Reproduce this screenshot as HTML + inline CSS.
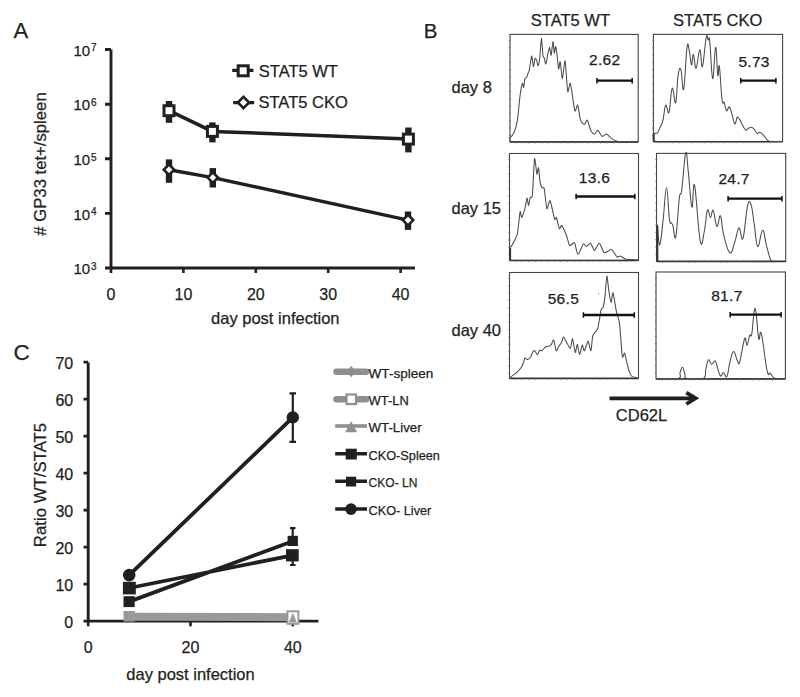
<!DOCTYPE html>
<html><head><meta charset="utf-8">
<style>
html,body{margin:0;padding:0;background:#fff;}
body{width:800px;height:697px;overflow:hidden;}
svg{display:block;}
text{font-family:"Liberation Sans",sans-serif;fill:#231f20;stroke:#231f20;stroke-width:0.25px;}
</style></head><body>
<svg width="800" height="697" viewBox="0 0 800 697">
<rect width="800" height="697" fill="#fff"/>
<text x="13.6" y="37.8" font-size="22">A</text>
<path d="M111,49.5 V268 M105,49.5 H111 M105,104.2 H111 M105,158.8 H111 M105,213.4 H111 M105,268 H415" stroke="#231f20" stroke-width="2.9" fill="none"/>
<path d="M111.0,268 V273" stroke="#231f20" stroke-width="2.6"/>
<text x="111.0" y="299.5" font-size="16" text-anchor="middle">0</text>
<path d="M183.4,268 V273" stroke="#231f20" stroke-width="2.6"/>
<text x="183.4" y="299.5" font-size="16" text-anchor="middle">10</text>
<path d="M255.8,268 V273" stroke="#231f20" stroke-width="2.6"/>
<text x="255.8" y="299.5" font-size="16" text-anchor="middle">20</text>
<path d="M328.2,268 V273" stroke="#231f20" stroke-width="2.6"/>
<text x="328.2" y="299.5" font-size="16" text-anchor="middle">30</text>
<path d="M400.6,268 V273" stroke="#231f20" stroke-width="2.6"/>
<text x="400.6" y="299.5" font-size="16" text-anchor="middle">40</text>
<text x="90.2" y="55.8" font-size="15" text-anchor="end">10</text>
<text x="91" y="51.4" font-size="10">7</text>
<text x="90.2" y="110.4" font-size="15" text-anchor="end">10</text>
<text x="91" y="106.0" font-size="10">6</text>
<text x="90.2" y="165.0" font-size="15" text-anchor="end">10</text>
<text x="91" y="160.6" font-size="10">5</text>
<text x="90.2" y="219.6" font-size="15" text-anchor="end">10</text>
<text x="91" y="215.2" font-size="10">4</text>
<text x="90.2" y="274.2" font-size="15" text-anchor="end">10</text>
<text x="91" y="269.8" font-size="10">3</text>
<text x="275.3" y="324.1" font-size="16.5" text-anchor="middle">day post infection</text>
<text transform="translate(45.8,164) rotate(-90)" font-size="16.7" text-anchor="middle"># GP33 tet+/spleen</text>
<rect x="165.8" y="101" width="6.4" height="21.8" fill="#231f20"/>
<rect x="209.2" y="122.4" width="6.4" height="20.0" fill="#231f20"/>
<rect x="405.2" y="127.5" width="6.4" height="24.9" fill="#231f20"/>
<rect x="165.8" y="159.4" width="6.4" height="23.4" fill="#231f20"/>
<rect x="209.6" y="168.1" width="6.4" height="19.4" fill="#231f20"/>
<rect x="404.8" y="211.5" width="6.4" height="18.4" fill="#231f20"/>
<polyline points="169,110.7 212.4,131.4 408.4,139.1" stroke="#231f20" stroke-width="3.5" fill="none"/>
<polyline points="169,169.7 212.8,177.6 408,220.1" stroke="#231f20" stroke-width="3.5" fill="none"/>
<rect x="164" y="105.7" width="10" height="10" fill="#fff" stroke="#231f20" stroke-width="3"/>
<rect x="207.4" y="126.4" width="10" height="10" fill="#fff" stroke="#231f20" stroke-width="3"/>
<rect x="403.4" y="134.1" width="10" height="10" fill="#fff" stroke="#231f20" stroke-width="3"/>
<path d="M163.8,169.7 L169,164.5 L174.2,169.7 L169,174.89999999999998 Z" fill="#fff" stroke="#231f20" stroke-width="2.6"/>
<path d="M207.60000000000002,177.6 L212.8,172.4 L218.0,177.6 L212.8,182.79999999999998 Z" fill="#fff" stroke="#231f20" stroke-width="2.6"/>
<path d="M402.8,220.1 L408,214.9 L413.2,220.1 L408,225.29999999999998 Z" fill="#fff" stroke="#231f20" stroke-width="2.6"/>
<path d="M232.2,70.3 H253.5 M233.2,102.7 H254.2" stroke="#231f20" stroke-width="3.3"/>
<rect x="238.2" y="65.8" width="10" height="10" fill="#fff" stroke="#231f20" stroke-width="3"/>
<path d="M237.9,102.5 L243.5,96.9 L249.1,102.5 L243.5,108.1 Z" fill="#fff" stroke="#231f20" stroke-width="2.6"/>
<text x="258.8" y="77.2" font-size="16.5">STAT5 WT</text>
<text x="258.5" y="107.8" font-size="16.5">STAT5 CKO</text>
<text x="423.8" y="37.9" font-size="20.5">B</text>
<text x="570.4" y="26" font-size="16.5" text-anchor="middle">STAT5 WT</text>
<text x="717.7" y="26" font-size="16.5" text-anchor="middle">STAT5 CKO</text>
<text x="451.5" y="93.1" font-size="16.5">day 8</text>
<text x="451.5" y="213.7" font-size="16.5">day 15</text>
<text x="451.5" y="335.6" font-size="16.5">day 40</text>
<rect x="510" y="34.4" width="128.2" height="107.4" fill="none" stroke="#444" stroke-width="1.1"/>
<path d="M510,142.0 H638.2" stroke="#333" stroke-width="1.5"/>
<path d="M516.0,141.8 v1.8 M522.5,141.8 v1.8 M529.0,141.8 v1.8 M535.5,141.8 v1.8 M542.0,141.8 v1.8 M548.5,141.8 v1.8 M555.0,141.8 v1.8 M561.5,141.8 v1.8 M568.0,141.8 v1.8 M574.5,141.8 v1.8 M581.0,141.8 v1.8 M587.5,141.8 v1.8 M594.0,141.8 v1.8 M600.5,141.8 v1.8 M607.0,141.8 v1.8 M613.5,141.8 v1.8 M620.0,141.8 v1.8 M626.5,141.8 v1.8 " stroke="#777" stroke-width="0.8"/>
<path d="M508.8,40.4 h2 M508.8,47.7 h2 M508.8,55.0 h2 M508.8,62.3 h2 M508.8,69.6 h2 M508.8,76.9 h2 M508.8,84.2 h2 M508.8,91.5 h2 M508.8,98.8 h2 M508.8,106.1 h2 M508.8,113.4 h2 M508.8,120.7 h2 M508.8,128.0 h2 M508.8,135.3 h2 " stroke="#666" stroke-width="0.8"/>
<path d="M509.9,141.5 C509.9,141.1 509.6,138.8 509.9,138.1 C510.2,137.4 512.1,136.0 512.8,134.8 C513.5,133.6 515.4,128.9 516,126.8 C516.6,124.7 517.6,118.6 518,115.6 C518.4,112.6 519.3,102.3 519.6,99.5 C519.9,96.7 520.6,91.6 520.9,89.8 C521.2,88.0 522.2,83.7 522.5,83.4 C522.8,83.1 523.4,87.9 523.7,87.4 C524.0,86.9 524.6,79.7 524.9,78.6 C525.2,77.5 526.1,78.4 526.5,77.8 C526.9,77.2 527.8,73.8 528.1,73 C528.4,72.2 528.9,71.8 529.2,70.6 C529.5,69.4 530.2,64.1 530.5,62.5 C530.8,60.9 531.5,55.7 531.8,56.1 C532.1,56.5 533.0,66.2 533.4,66.5 C533.8,66.8 534.6,59.2 535,58.5 C535.4,57.8 536.2,59.3 536.6,60.1 C537.0,60.9 537.8,66.0 538.2,65.7 C538.6,65.4 539.4,60.7 539.8,57.7 C540.2,54.7 541.0,38.6 541.4,38.4 C541.8,38.2 542.7,54.0 543,56.1 C543.3,58.2 543.9,56.8 544.2,57.7 C544.5,58.6 545.4,64.3 545.8,64.1 C546.2,63.9 547.0,57.9 547.4,56.1 C547.8,54.3 549.1,47.4 549.5,47.3 C549.9,47.2 550.7,55.9 551.1,55.3 C551.5,54.7 552.6,41.9 553,41.6 C553.4,41.3 554.0,52.4 554.3,52.9 C554.6,53.4 555.3,46.3 555.6,46.5 C555.9,46.7 556.7,52.0 557,54.5 C557.3,57.0 558.2,68.2 558.6,69 C559.0,69.8 559.8,60.6 560.2,61.7 C560.6,62.8 561.9,78.7 562.4,78.6 C562.9,78.5 564.5,59.5 565.1,60.9 C565.7,62.3 567.1,89.0 567.7,91.5 C568.3,94.0 569.6,81.3 570.4,83.4 C571.2,85.5 574.0,108.3 574.8,110.7 C575.6,113.1 577.1,104.0 577.7,105.1 C578.3,106.2 579.9,118.3 580.6,120.4 C581.3,122.5 583.7,124.4 584.4,124.4 C585.1,124.4 586.6,119.4 587.3,120.1 C588.0,120.8 590.1,129.3 590.9,130.8 C591.7,132.3 593.7,134.1 594.5,134 C595.3,133.9 597.0,130.0 597.8,130.3 C598.6,130.6 601.1,136.0 602.1,136.4 C603.1,136.8 605.6,133.8 606.6,134 C607.6,134.2 610.3,137.6 611.4,138.4 C612.5,139.2 615.6,140.9 617,141.3 C618.4,141.7 622.0,141.9 624.3,142 C626.6,142.0 636.5,142.0 638,142" fill="none" stroke="#4a4a4a" stroke-width="1.05"/>
<rect x="653.4" y="34.4" width="129.2" height="107.1" fill="none" stroke="#444" stroke-width="1.1"/>
<path d="M653.4,141.7 H782.6" stroke="#333" stroke-width="1.5"/>
<path d="M659.4,141.5 v1.8 M665.9,141.5 v1.8 M672.4,141.5 v1.8 M678.9,141.5 v1.8 M685.4,141.5 v1.8 M691.9,141.5 v1.8 M698.4,141.5 v1.8 M704.9,141.5 v1.8 M711.4,141.5 v1.8 M717.9,141.5 v1.8 M724.4,141.5 v1.8 M730.9,141.5 v1.8 M737.4,141.5 v1.8 M743.9,141.5 v1.8 M750.4,141.5 v1.8 M756.9,141.5 v1.8 M763.4,141.5 v1.8 M769.9,141.5 v1.8 " stroke="#777" stroke-width="0.8"/>
<path d="M652.1999999999999,40.4 h2 M652.1999999999999,47.7 h2 M652.1999999999999,55.0 h2 M652.1999999999999,62.3 h2 M652.1999999999999,69.6 h2 M652.1999999999999,76.9 h2 M652.1999999999999,84.2 h2 M652.1999999999999,91.5 h2 M652.1999999999999,98.8 h2 M652.1999999999999,106.1 h2 M652.1999999999999,113.4 h2 M652.1999999999999,120.7 h2 M652.1999999999999,128.0 h2 M652.1999999999999,135.3 h2 " stroke="#666" stroke-width="0.8"/>
<path d="M653.5,141.5 C653.5,139.8 652.7,135.3 653.5,133.6 C654.3,131.9 655.9,134.3 657.2,133.2 C658.5,132.1 658.4,131.1 659.6,128.4 C660.8,125.7 661.6,125.3 662.9,120.4 C664.2,115.5 664.4,106.8 665.7,105.1 C667.0,103.4 667.6,115.8 669,112.3 C670.4,108.8 670.8,90.2 672.2,88.2 C673.6,86.2 674.5,105.4 675.7,102.7 C676.9,100.0 677.0,82.3 678.1,75.4 C679.2,68.5 679.7,66.9 680.9,69.8 C682.1,72.7 682.4,93.7 683.7,89 C685.0,84.3 685.8,55.2 687,47.3 C688.2,39.4 688.5,47.6 689.4,51.3 C690.3,55.0 690.7,64.2 691.5,64.9 C692.3,65.6 692.4,53.8 693.4,54.5 C694.4,55.2 694.8,69.2 696.1,68.2 C697.4,67.2 698.5,50.1 699.8,49.7 C701.1,49.3 701.1,69.0 702.4,66.5 C703.7,64.0 705.0,43.2 706.2,37.6 C707.4,32.0 707.4,39.2 708.2,40 C709.0,40.8 708.9,33.5 709.8,41.6 C710.7,49.7 711.5,77.4 712.7,78.6 C713.9,79.8 714.5,48.0 715.6,47.3 C716.7,46.6 717.0,71.4 717.8,75.4 C718.6,79.4 718.5,61.4 719.4,66.5 C720.3,71.6 721.0,91.9 722,99.5 C723.0,107.1 723.2,100.3 724.2,102.7 C725.2,105.1 725.5,109.7 726.7,110.7 C727.9,111.7 728.2,104.8 729.9,107.5 C731.6,110.2 733.0,121.6 734.7,123.6 C736.4,125.6 735.8,116.0 737.9,117.2 C740.0,118.4 742.8,126.8 744.9,129.2 C747.0,131.6 746.5,128.7 748.1,128.4 C749.7,128.1 750.5,126.6 752.4,127.6 C754.3,128.6 755.5,132.2 757.2,133.2 C758.9,134.2 758.7,131.5 760.4,132.4 C762.1,133.3 763.4,135.4 765.3,137.3 C767.2,139.2 765.8,140.4 769.3,141.3 C772.8,141.5 779.3,141.5 782,141.5" fill="none" stroke="#4a4a4a" stroke-width="1.05"/>
<rect x="509.5" y="153.5" width="129.0" height="106.9" fill="none" stroke="#444" stroke-width="1.1"/>
<path d="M509.5,260.59999999999997 H638.5" stroke="#333" stroke-width="1.5"/>
<path d="M515.5,260.4 v1.8 M522.0,260.4 v1.8 M528.5,260.4 v1.8 M535.0,260.4 v1.8 M541.5,260.4 v1.8 M548.0,260.4 v1.8 M554.5,260.4 v1.8 M561.0,260.4 v1.8 M567.5,260.4 v1.8 M574.0,260.4 v1.8 M580.5,260.4 v1.8 M587.0,260.4 v1.8 M593.5,260.4 v1.8 M600.0,260.4 v1.8 M606.5,260.4 v1.8 M613.0,260.4 v1.8 M619.5,260.4 v1.8 M626.0,260.4 v1.8 " stroke="#777" stroke-width="0.8"/>
<path d="M508.3,159.5 h2 M508.3,166.8 h2 M508.3,174.1 h2 M508.3,181.4 h2 M508.3,188.7 h2 M508.3,196.0 h2 M508.3,203.3 h2 M508.3,210.6 h2 M508.3,217.9 h2 M508.3,225.2 h2 M508.3,232.5 h2 M508.3,239.8 h2 M508.3,247.1 h2 M508.3,254.4 h2 " stroke="#666" stroke-width="0.8"/>
<path d="M509.9,260 C509.9,258.7 509.8,249.5 509.9,248 C510.0,246.5 510.7,247.2 511.2,246.4 C511.7,245.6 513.7,242.3 514.4,240.8 C515.1,239.3 517.0,236.0 517.6,232.8 C518.2,229.6 519.6,213.6 520.1,211.9 C520.6,210.2 521.2,217.9 521.7,217.5 C522.2,217.1 524.3,210.8 524.9,208.7 C525.5,206.6 526.6,198.6 527,198.2 C527.4,197.8 528.2,205.5 528.6,205.4 C529.0,205.3 529.8,198.5 530.2,197.4 C530.6,196.3 531.9,199.2 532.4,195 C532.9,190.8 534.0,161.1 534.5,158.8 C535.0,156.5 536.5,173.1 536.9,174.1 C537.3,175.1 538.1,166.8 538.5,167.7 C538.9,168.6 539.7,179.9 540.1,182.1 C540.5,184.3 541.6,187.1 542.1,187.8 C542.6,188.5 543.7,186.3 544.2,188.6 C544.7,190.9 546.3,207.4 546.9,208.7 C547.5,210.0 549.3,199.5 550.1,200.6 C550.9,201.7 553.9,217.2 554.6,219.1 C555.3,221.0 556.0,216.4 556.5,217.5 C557.0,218.6 558.8,227.8 559.4,228.7 C560.0,229.6 561.0,224.8 561.8,225.5 C562.6,226.2 565.5,233.0 566.4,235.2 C567.3,237.4 568.7,244.8 569.6,245.6 C570.5,246.4 573.6,241.9 574.5,242.9 C575.4,243.9 577.0,254.4 578,254.5 C579.0,254.6 582.4,244.9 583.3,244 C584.2,243.1 585.7,246.5 586.5,246.4 C587.3,246.3 589.6,242.8 590.5,243.2 C591.4,243.6 593.5,250.4 594.5,250.4 C595.5,250.4 598.3,242.9 599.4,243.2 C600.5,243.5 602.9,252.1 604.2,252.8 C605.5,253.5 610.0,249.1 611.4,249.6 C612.8,250.1 616.0,256.2 617,256.9 C618.0,257.6 619.3,255.8 620.3,256.1 C621.3,256.4 624.6,258.9 625.9,259.3 C627.2,259.7 631.0,259.5 632.3,259.6 C633.6,259.7 637.4,260.0 638,260" fill="none" stroke="#4a4a4a" stroke-width="1.05"/>
<rect x="656.5" y="153.4" width="129.2" height="107.8" fill="none" stroke="#444" stroke-width="1.1"/>
<path d="M656.5,261.4 H785.7" stroke="#333" stroke-width="1.5"/>
<path d="M662.5,261.2 v1.8 M669.0,261.2 v1.8 M675.5,261.2 v1.8 M682.0,261.2 v1.8 M688.5,261.2 v1.8 M695.0,261.2 v1.8 M701.5,261.2 v1.8 M708.0,261.2 v1.8 M714.5,261.2 v1.8 M721.0,261.2 v1.8 M727.5,261.2 v1.8 M734.0,261.2 v1.8 M740.5,261.2 v1.8 M747.0,261.2 v1.8 M753.5,261.2 v1.8 M760.0,261.2 v1.8 M766.5,261.2 v1.8 M773.0,261.2 v1.8 " stroke="#777" stroke-width="0.8"/>
<path d="M655.3,159.4 h2 M655.3,166.7 h2 M655.3,174.0 h2 M655.3,181.3 h2 M655.3,188.6 h2 M655.3,195.9 h2 M655.3,203.2 h2 M655.3,210.5 h2 M655.3,217.8 h2 M655.3,225.1 h2 M655.3,232.4 h2 M655.3,239.7 h2 M655.3,247.0 h2 M655.3,254.3 h2 " stroke="#666" stroke-width="0.8"/>
<path d="M657.1,261 C657.1,253.5 656.6,228.9 657.1,225.5 C657.6,222.1 658.4,246.1 659.7,244.8 C661.0,243.5 661.8,231.1 663.2,219.1 C664.6,207.1 665.2,187.8 666.5,187.8 C667.8,187.8 668.4,211.7 669.4,219.1 C670.4,226.5 670.6,221.8 671.3,223.1 C672.0,224.4 672.0,222.6 672.9,225.5 C673.8,228.4 674.5,242.5 675.8,236.8 C677.1,231.1 678.1,208.0 679.3,198.2 C680.5,188.4 680.4,199.6 681.7,190.2 C683.0,180.8 684.3,157.3 685.7,153.2 C687.1,149.1 686.9,159.6 688.2,170.9 C689.5,182.2 690.6,204.0 691.9,207 C693.2,210.0 692.9,178.3 694.6,185.4 C696.3,192.5 698.2,231.0 700.2,240.8 C702.2,250.6 702.7,238.4 704.2,232 C705.7,225.6 706.1,213.3 707.4,210.3 C708.7,207.3 709.3,217.5 710.5,217.5 C711.7,217.5 711.9,208.5 713.2,210.3 C714.5,212.1 715.4,225.1 716.9,226.3 C718.4,227.5 719.1,214.0 720.5,215.9 C721.9,217.8 721.7,227.5 723.7,235.2 C725.7,242.9 727.4,251.5 729.8,252.8 C732.2,254.1 733.0,246.8 734.9,241.6 C736.8,236.4 737.2,228.6 738.9,227.9 C740.6,227.2 741.2,243.0 743,238.4 C744.8,233.8 745.8,213.3 747.5,206.2 C749.2,199.1 749.6,200.9 751,204.6 C752.4,208.3 752.8,215.1 754.2,223.9 C755.6,232.7 755.9,245.1 757.7,246.4 C759.5,247.7 760.8,230.6 762.6,230.3 C764.4,230.0 764.7,238.7 766.3,244.8 C767.9,250.9 769.1,255.9 770.3,259.3 C771.5,261.0 771.6,260.6 772,261" fill="none" stroke="#4a4a4a" stroke-width="1.05"/>
<rect x="509.5" y="272.5" width="129.0" height="105.7" fill="none" stroke="#444" stroke-width="1.1"/>
<path d="M509.5,378.4 H638.5" stroke="#333" stroke-width="1.5"/>
<path d="M515.5,378.2 v1.8 M522.0,378.2 v1.8 M528.5,378.2 v1.8 M535.0,378.2 v1.8 M541.5,378.2 v1.8 M548.0,378.2 v1.8 M554.5,378.2 v1.8 M561.0,378.2 v1.8 M567.5,378.2 v1.8 M574.0,378.2 v1.8 M580.5,378.2 v1.8 M587.0,378.2 v1.8 M593.5,378.2 v1.8 M600.0,378.2 v1.8 M606.5,378.2 v1.8 M613.0,378.2 v1.8 M619.5,378.2 v1.8 M626.0,378.2 v1.8 " stroke="#777" stroke-width="0.8"/>
<path d="M508.3,278.5 h2 M508.3,285.8 h2 M508.3,293.1 h2 M508.3,300.4 h2 M508.3,307.7 h2 M508.3,315.0 h2 M508.3,322.3 h2 M508.3,329.6 h2 M508.3,336.9 h2 M508.3,344.2 h2 M508.3,351.5 h2 M508.3,358.8 h2 M508.3,366.1 h2 M508.3,373.4 h2 " stroke="#666" stroke-width="0.8"/>
<path d="M509.9,377.5 C510.3,377.2 512.8,375.5 513.6,374.9 C514.4,374.3 516.7,372.5 517.6,371.6 C518.5,370.7 521.0,367.9 521.7,366.8 C522.4,365.7 523.3,363.0 523.7,362 C524.1,361.0 524.5,358.3 524.9,358 C525.3,357.7 526.7,359.7 527.3,359.6 C527.9,359.5 529.9,358.1 530.5,357.2 C531.1,356.3 532.4,352.3 532.9,351.6 C533.4,350.9 534.5,350.4 535,350.8 C535.5,351.2 536.7,354.9 537.2,354.8 C537.7,354.7 539.3,350.4 539.8,350 C540.3,349.6 541.0,351.2 541.7,350.8 C542.4,350.4 544.9,347.2 545.8,346.7 C546.7,346.2 548.9,346.2 549.5,345.9 C550.1,345.6 550.9,344.9 551.4,344.3 C551.9,343.7 553.3,339.3 553.8,340 C554.3,340.7 555.7,350.1 556.2,350.8 C556.7,351.5 558.0,347.7 558.6,346.7 C559.2,345.7 561.3,343.0 561.8,341.9 C562.3,340.8 562.9,336.9 563.5,337.1 C564.1,337.3 566.4,342.3 567.2,343.5 C568.0,344.7 569.8,348.8 570.4,348.3 C571.0,347.8 572.0,338.2 572.5,338.7 C573.0,339.2 574.8,351.8 575.3,352.4 C575.8,353.0 576.9,344.0 577.4,344.3 C577.9,344.6 579.1,354.7 579.6,354.8 C580.1,354.9 581.7,345.5 582.2,345.1 C582.7,344.7 583.8,351.2 584.4,350.8 C585.0,350.4 587.4,341.1 588.1,341.1 C588.8,341.1 590.4,351.4 590.9,350.8 C591.4,350.2 592.1,338.0 592.9,335.5 C593.7,333.0 596.9,331.1 597.8,328.3 C598.7,325.5 600.4,312.1 601,309.8 C601.6,307.5 602.7,308.9 603.1,307.4 C603.5,305.9 604.6,299.6 605,296.1 C605.4,292.6 606.5,276.4 606.9,276 C607.3,275.6 608.5,289.2 609,292.1 C609.5,295.0 610.7,302.4 611.1,302.5 C611.5,302.6 612.4,292.0 613,292.9 C613.6,293.8 615.5,307.2 616.2,310.6 C616.9,314.0 618.8,318.4 619.5,323.4 C620.2,328.4 621.7,353.1 622.3,356.4 C622.9,359.7 623.9,351.9 624.6,353.2 C625.3,354.5 627.5,365.9 628.3,368.4 C629.1,370.9 630.5,375.0 631.5,376 C632.5,377.0 636.5,377.6 637.1,377.8" fill="none" stroke="#4a4a4a" stroke-width="1.05"/>
<rect x="656" y="272" width="129.4" height="106.8" fill="none" stroke="#444" stroke-width="1.1"/>
<path d="M656,379.0 H785.4" stroke="#333" stroke-width="1.5"/>
<path d="M662.0,378.8 v1.8 M668.5,378.8 v1.8 M675.0,378.8 v1.8 M681.5,378.8 v1.8 M688.0,378.8 v1.8 M694.5,378.8 v1.8 M701.0,378.8 v1.8 M707.5,378.8 v1.8 M714.0,378.8 v1.8 M720.5,378.8 v1.8 M727.0,378.8 v1.8 M733.5,378.8 v1.8 M740.0,378.8 v1.8 M746.5,378.8 v1.8 M753.0,378.8 v1.8 M759.5,378.8 v1.8 M766.0,378.8 v1.8 M772.5,378.8 v1.8 " stroke="#777" stroke-width="0.8"/>
<path d="M654.8,278.0 h2 M654.8,285.3 h2 M654.8,292.6 h2 M654.8,299.9 h2 M654.8,307.2 h2 M654.8,314.5 h2 M654.8,321.8 h2 M654.8,329.1 h2 M654.8,336.4 h2 M654.8,343.7 h2 M654.8,351.0 h2 M654.8,358.3 h2 M654.8,365.6 h2 M654.8,372.9 h2 " stroke="#666" stroke-width="0.8"/>
<path d="M656,378.5 C660.6,378.5 672.6,378.5 677.7,378.5 C682.8,377.2 679.1,374.9 680.1,372.5 C681.1,370.1 681.5,367.0 682.5,367.3 C683.5,367.6 684.0,371.7 684.9,374.1 C685.8,376.5 683.1,377.6 687,378.5 C690.9,378.5 699.5,378.5 703.4,378.5 C707.3,376.5 704.7,373.1 705.8,369.2 C706.9,365.3 707.3,360.9 708.5,359.9 C709.7,358.9 710.2,364.2 711.6,364.4 C713.0,364.6 714.0,360.1 715.3,360.9 C716.6,361.7 716.5,365.2 717.6,368.4 C718.7,371.6 719.3,375.1 720.5,376 C721.7,376.9 722.1,372.4 723.4,372.5 C724.7,372.6 725.5,378.5 726.9,376.5 C728.3,374.1 728.7,366.4 730.1,361.2 C731.5,356.0 732.1,351.8 733.6,351.6 C735.1,351.4 736.0,358.2 737.3,360.4 C738.6,362.6 738.2,366.6 739.7,362 C741.2,357.4 743.1,342.2 744.6,338.7 C746.1,335.2 745.9,345.8 747,345.1 C748.1,344.4 748.7,337.9 749.7,335.5 C750.7,333.1 750.9,339.0 751.8,333.9 C752.7,328.8 753.3,315.8 754.2,311.4 C755.1,307.0 755.2,307.3 756.1,313 C757.0,318.7 757.6,334.3 758.7,338.7 C759.8,343.1 759.6,327.2 761.4,333.9 C763.2,340.6 765.2,362.5 767.1,370.8 C769.0,378.5 768.6,371.7 770.3,373.3 C772.0,374.9 772.1,377.4 775.1,378.5 C778.1,378.5 782.7,378.5 784.7,378.5" fill="none" stroke="#4a4a4a" stroke-width="1.05"/>
<path d="M653.8,133.6 V141.5 M510.2,248 V260 M657.4,225.5 V261" stroke="#333" stroke-width="1.8"/>
<circle cx="598.6" cy="293.7" r="0.6" fill="#777"/>
<text x="604.7" y="64.9" font-size="15.5" letter-spacing="0.3" text-anchor="middle" fill="#222">2.62</text>
<path d="M596.6,80.60000000000001 H632.6" stroke="#111" stroke-width="2.3" fill="none"/>
<path d="M597.0,77.9 V83.4 M632.2,77.9 V83.4" stroke="#111" stroke-width="1.5" fill="none"/>
<text x="754.1" y="66.5" font-size="15.5" letter-spacing="0.3" text-anchor="middle" fill="#222">5.73</text>
<path d="M740.4,80.7 H776.3" stroke="#111" stroke-width="2.3" fill="none"/>
<path d="M740.8,78.0 V83.5 M775.9,78.0 V83.5" stroke="#111" stroke-width="1.5" fill="none"/>
<text x="594.5" y="183.4" font-size="15.5" letter-spacing="0.3" text-anchor="middle" fill="#222">13.6</text>
<path d="M575.7,196.5 H635.2" stroke="#111" stroke-width="2.3" fill="none"/>
<path d="M576.1,193.8 V199.3 M634.8000000000001,193.8 V199.3" stroke="#111" stroke-width="1.5" fill="none"/>
<text x="734.1" y="184.1" font-size="15.5" letter-spacing="0.3" text-anchor="middle" fill="#222">24.7</text>
<path d="M727.7,198.6 H782.3" stroke="#111" stroke-width="2.3" fill="none"/>
<path d="M728.1,195.9 V201.4 M781.9,195.9 V201.4" stroke="#111" stroke-width="1.5" fill="none"/>
<text x="563.4" y="304.2" font-size="15.5" letter-spacing="0.3" text-anchor="middle" fill="#222">56.5</text>
<path d="M583,315.0 H634.7" stroke="#111" stroke-width="2.3" fill="none"/>
<path d="M583.4,312.3 V317.8 M634.3000000000001,312.3 V317.8" stroke="#111" stroke-width="1.5" fill="none"/>
<text x="726.9" y="301.4" font-size="15.5" letter-spacing="0.3" text-anchor="middle" fill="#222">81.7</text>
<path d="M729.8,314.7 H781.5" stroke="#111" stroke-width="2.3" fill="none"/>
<path d="M730.1999999999999,312.0 V317.5 M781.1,312.0 V317.5" stroke="#111" stroke-width="1.5" fill="none"/>
<path d="M609.5,398.3 H694" stroke="#231f20" stroke-width="3.8"/>
<path d="M686.3,392.6 L695.6,398.3 L686.3,404" stroke="#231f20" stroke-width="3.8" fill="none" stroke-linejoin="miter"/>
<text x="615.8" y="420.8" font-size="16.5">CD62L</text>
<text x="13.6" y="359.6" font-size="22.5">C</text>
<path d="M88.2,362.4 V621.1 M83.5,621.1 H318.4 M83.5,584.1 H88.2 M83.5,547.1 H88.2 M83.5,510.1 H88.2 M83.5,473.1 H88.2 M83.5,436.1 H88.2 M83.5,399.1 H88.2 M83.5,362.1 H88.2 " stroke="#231f20" stroke-width="2.9" fill="none"/>
<path d="M88.2,621.1 V626.3" stroke="#231f20" stroke-width="2.6"/>
<text x="88.2" y="653" font-size="16" text-anchor="middle">0</text>
<path d="M190.5,621.1 V626.3" stroke="#231f20" stroke-width="2.6"/>
<text x="190.5" y="653" font-size="16" text-anchor="middle">20</text>
<path d="M292.8,621.1 V626.3" stroke="#231f20" stroke-width="2.6"/>
<text x="292.8" y="653" font-size="16" text-anchor="middle">40</text>
<text x="73.2" y="627.8" font-size="16" text-anchor="end">0</text>
<text x="73.2" y="590.8" font-size="16" text-anchor="end">10</text>
<text x="73.2" y="553.8" font-size="16" text-anchor="end">20</text>
<text x="73.2" y="516.8" font-size="16" text-anchor="end">30</text>
<text x="73.2" y="479.8" font-size="16" text-anchor="end">40</text>
<text x="73.2" y="442.8" font-size="16" text-anchor="end">50</text>
<text x="73.2" y="405.8" font-size="16" text-anchor="end">60</text>
<text x="73.2" y="368.8" font-size="16" text-anchor="end">70</text>
<text x="190.5" y="679.5" font-size="16.5" text-anchor="middle">day post infection</text>
<text transform="translate(45.6,485) rotate(-90)" font-size="16.8" text-anchor="middle">Ratio WT/STAT5</text>
<path d="M129.2,616.8 L292.7,617.2" stroke="#999999" stroke-width="8"/>
<rect x="123.5" y="611" width="11.5" height="10.5" fill="#999999"/>
<rect x="287.4" y="611.3" width="11" height="12.5" fill="#fff" stroke="#999999" stroke-width="2"/>
<path d="M292.8,612.8 L296.8,622.5 L288.8,622.5 Z" fill="#999999"/>
<path d="M129.2,575.1 L292.8,417.4 M129.2,588 L292.7,555.3 M129.2,601.6 L292.7,541.3" stroke="#231f20" stroke-width="3.8" fill="none"/>
<path d="M292.8,393.3 V441.8 M289.5,393.3 H296 M289.5,441.8 H296 M292.7,528.2 V541 M290,528.2 H295.5 M292.7,556 V565 M290,565 H295.5" stroke="#231f20" stroke-width="2.2" fill="none"/>
<circle cx="129.2" cy="575.1" r="6.3" fill="#231f20"/>
<circle cx="292.8" cy="417.4" r="6.2" fill="#231f20"/>
<rect x="122.9" y="581.8" width="12.9" height="12.6" fill="#231f20"/>
<rect x="286" y="549.2" width="12.7" height="12.2" fill="#231f20"/>
<rect x="123.5" y="596.2" width="11.2" height="10.9" fill="#231f20"/>
<rect x="287.6" y="535.8" width="10.3" height="10.2" fill="#231f20"/>
<path d="M336.5,371.7 H366 M336.5,399.3 H366" stroke="#8f8f8f" stroke-width="6.5" stroke-linecap="round"/>
<path d="M351.2,365.8 L355.6,371.7 L351.2,377.3 L346.8,371.7 Z" fill="#8f8f8f"/>
<rect x="346.5" y="394.5" width="9.5" height="9.5" fill="#fff" stroke="#8f8f8f" stroke-width="2.2"/>
<path d="M335.2,426 H367" stroke="#8f8f8f" stroke-width="3.6"/>
<path d="M351.2,421.2 L357.2,432.3 L345.2,432.3 Z" fill="#8f8f8f"/>
<path d="M335.2,453.8 H367 M335.2,481.2 H367 M335.2,509 H367" stroke="#231f20" stroke-width="3.6"/>
<rect x="345.7" y="448.7" width="11.1" height="10.8" fill="#231f20"/>
<rect x="346" y="476.7" width="10.2" height="9.8" fill="#231f20"/>
<circle cx="351" cy="509.1" r="5.8" fill="#231f20"/>
<text x="368.6" y="377.7" font-size="13" textLength="64.7" lengthAdjust="spacingAndGlyphs">WT-spleen</text>
<text x="368.6" y="404.7" font-size="13" textLength="40.2" lengthAdjust="spacingAndGlyphs">WT-LN</text>
<text x="368.6" y="432" font-size="13" textLength="53.0" lengthAdjust="spacingAndGlyphs">WT-Liver</text>
<text x="368.6" y="459.8" font-size="13" textLength="71.3" lengthAdjust="spacingAndGlyphs">CKO-Spleen</text>
<text x="368.6" y="486.8" font-size="13" textLength="48.800000000000004" lengthAdjust="spacingAndGlyphs">CKO- LN</text>
<text x="368.6" y="514.5" font-size="13" textLength="62.7" lengthAdjust="spacingAndGlyphs">CKO- Liver</text>
</svg>
</body></html>
